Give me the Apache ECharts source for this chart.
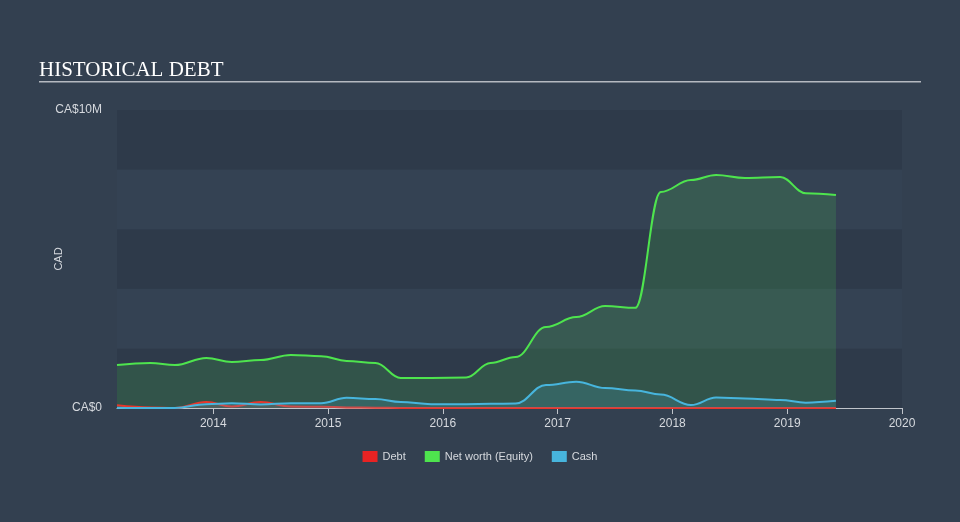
<!DOCTYPE html>
<html>
<head>
<meta charset="utf-8">
<script src="https://cdn.jsdelivr.net/npm/echarts@6/dist/echarts.min.js"></script>
<style>
html,body{margin:0;padding:0;background:#334050;}
#chart{width:960px;height:522px;}
</style>
</head>
<body>
<div id="chart"></div>
<script>
const dates = ['2013-03-01','2013-06-15','2013-09-01','2013-12-10','2014-03-01','2014-06-01','2014-09-05','2014-12-10','2015-03-01','2015-06-01','2015-08-20','2015-11-25','2016-03-15','2016-06-01','2016-08-20','2016-11-25','2017-03-01','2017-06-01','2017-09-05','2017-11-25','2018-03-01','2018-05-20','2018-08-20','2018-12-10','2019-03-01','2019-06-05'];
const debt =     [0.09,0.02,0.00,0.20,0.05,0.20,0.05,0.04,0.02,0.01,0,0,0,0,0,0,0,0,0,0,0,0,0,0,0,0];
const netWorth = [1.44,1.51,1.44,1.68,1.54,1.61,1.78,1.74,1.58,1.51,1.01,1.01,1.02,1.51,1.71,2.72,3.05,3.42,3.36,7.25,7.65,7.82,7.72,7.75,7.21,7.15];
const cash =     [0.01,0.00,0.00,0.13,0.16,0.12,0.16,0.16,0.34,0.30,0.20,0.13,0.13,0.14,0.15,0.77,0.88,0.67,0.59,0.45,0.10,0.35,0.32,0.27,0.18,0.24];
const yearTicks = [2014, 2015, 2016, 2017, 2018, 2019, 2020];
const axisStart = '2013-03-01';
const axisEnd = '2020-01-01';

function decYear(s) {
  const d = new Date(s + 'T00:00:00Z');
  const y = d.getUTCFullYear();
  const a = Date.UTC(y, 0, 1), b = Date.UTC(y + 1, 0, 1);
  return y + (d.getTime() - a) / (b - a);
}
const toPairs = arr => dates.map((d,i)=>[decYear(d), arr[i]*1e6]);

const chart = echarts.init(document.getElementById('chart'));
chart.setOption({
  backgroundColor: '#334050',
  animation: false,
  title: {
    text: 'HISTORICAL DEBT', left: 34, top: 55,
    textStyle: {fontFamily: 'Liberation Serif', fontSize: 21, fontWeight: 'normal', color: '#ffffff'}
  },
  graphic: [{type:'rect', shape:{x:39, y:81, width:882, height:1.5}, style:{fill:'#b5b9c0'}}],
  legend: {
    bottom: 55, left: 'center', itemWidth: 15, itemHeight: 11, itemGap: 19,
    icon: 'rect',
    textStyle: {color: '#d6d9de', fontSize: 11, fontFamily: 'Liberation Sans'},
    data: ['Debt','Net worth (Equity)','Cash']
  },
  grid: {left: 117, right: 58, top: 110, bottom: 114},
  xAxis: {
    type: 'value',
    min: decYear(axisStart),
    max: decYear(axisEnd),
    axisLine: {show: true, onZero: false, lineStyle: {color: '#c0c4ca', width: 1}},
    axisTick: {show: true, length: 6, lineStyle: {color: '#c0c4ca'}, customValues: yearTicks},
    axisLabel: {color: '#d6d9de', fontSize: 12, fontFamily: 'Liberation Sans', margin: 10,
      customValues: yearTicks, formatter: v => String(Math.round(v))},
    splitLine: {show: false}
  },
  yAxis: {
    type: 'value', min: 0, max: 10e6, interval: 2e6,
    name: 'CAD', nameLocation: 'middle', nameGap: 53, nameRotate: 90, nameMoveOverlap: false,
    nameTextStyle: {color: '#d6d9de', fontSize: 11, fontFamily: 'Liberation Sans'},
    axisLine: {show: false}, axisTick: {show: false},
    axisLabel: {color: '#d6d9de', fontSize: 12, fontFamily: 'Liberation Sans', margin: 15,
      formatter: v => v === 0 ? 'CA$0' : (v === 10e6 ? 'CA$10M' : '')},
    splitLine: {show: false},
    splitArea: {show: true, areaStyle: {color: ['#2e3a4a', '#344253']}}
  },
  series: [
    {name: 'Debt', type: 'line', data: toPairs(debt), smooth: 0.4, smoothMonotone: 'x', showSymbol: false,
      lineStyle: {color: '#e8362b', width: 2}, itemStyle: {color: '#e82323'},
      areaStyle: {color: 'rgba(232,54,43,0.25)'}, z: 4},
    {name: 'Net worth (Equity)', type: 'line', data: toPairs(netWorth), smooth: 0.4, smoothMonotone: 'x', showSymbol: false,
      lineStyle: {color: '#4ee44e', width: 2}, itemStyle: {color: '#4ee44e'},
      areaStyle: {color: 'rgba(78,228,78,0.22)'}, z: 2},
    {name: 'Cash', type: 'line', data: toPairs(cash), smooth: 0.4, smoothMonotone: 'x', showSymbol: false,
      lineStyle: {color: '#47b5dd', width: 2}, itemStyle: {color: '#47b5dd'},
      areaStyle: {color: 'rgba(71,181,221,0.25)'}, z: 5}
  ]
});
</script>
</body>
</html>
